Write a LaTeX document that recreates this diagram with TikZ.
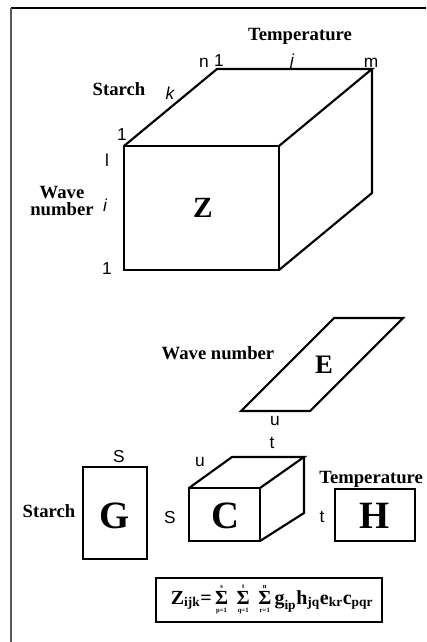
\documentclass[tikz,border=0pt]{standalone}
\usepackage{fontspec}
\setmainfont{Liberation Serif}
\setsansfont{Liberation Sans}
\newcommand{\subtx}[1]{\hbox{\fontsize{10}{10}\selectfont\bfseries #1}}
\newcommand{\limtx}[1]{\hbox{\fontsize{5}{5}\selectfont\bfseries #1}}
\newcommand{\bsum}[2]{\mathop{\hbox{\fontsize{15}{15}\selectfont\bfseries Σ}}\limits^{\limtx{#1}}_{\limtx{#2}}}
\begin{document}
\begin{tikzpicture}[x=0.75pt,y=-0.75pt,
  lbl/.style={font=\fontsize{14}{14}\selectfont\bfseries, inner sep=0, anchor=base},
  idx/.style={font=\sffamily\fontsize{13}{13}\selectfont, inner sep=0, anchor=base},
  iidx/.style={font=\sffamily\itshape\fontsize{13}{13}\selectfont, inner sep=0, anchor=base},
  bigz/.style={font=\fontsize{22}{22}\selectfont\bfseries, inner sep=0},
  bige/.style={font=\fontsize{20}{20}\selectfont\bfseries, inner sep=0},
  bigg/.style={font=\fontsize{29}{29}\selectfont\bfseries, inner sep=0},
  edge/.style={line width=1.6pt, line join=miter}]
\useasboundingbox (0,0) rectangle (426,642);
% frame
\coordinate (ftl) at (11,8);
\coordinate (ftr) at (426,8);
\coordinate (fbl) at (11,642);
\draw[line width=1.1pt, black] (ftl) -- (ftr);
\draw[line width=1.6pt, black!65] (fbl) -- (ftl);
% ---------- Z cube ----------
\coordinate (za) at (124,146);
\coordinate (zb) at (279,146);
\coordinate (zc) at (279,270);
\coordinate (zd) at (124,270);
\coordinate (ze) at (217,69);
\coordinate (zf) at (372,69);
\coordinate (zg) at (372,193);
\draw[edge] (za) -- (zb) -- (zc) -- (zd) -- cycle;
\draw[edge] (za) -- (ze) -- (zf) -- (zb);
\draw[edge] (zf) -- (zg) -- (zc);
\node[bigz] (zl) at (203,208) {Z};
\node[lbl] (ztemp) at (300,41) {Temperature};
\node[lbl] (zstarch) at (119,95) {Starch};
\node[lbl] (zwave1) at (62,198) {Wave};
\node[lbl] (zwave2) at (62,215) {number};
\node[idx] (zn) at (204,68) {n};
\node[idx] (zone1) at (219,67) {1};
\node[iidx] (zj) at (292,67) {j};
\node[idx] (zm) at (371,68) {m};
\node[iidx] (zk) at (170,99) {k};
\node[idx] (zone2) at (122,140) {1};
\node[idx] (zlw) at (107,166) {l};
\node[iidx] (zi) at (105,211) {i};
\node[idx] (zone3) at (107,274) {1};
% ---------- E ----------
\coordinate (ea) at (334,318);
\coordinate (eb) at (403,318);
\coordinate (ec) at (310,411);
\coordinate (ed) at (241,411);
\draw[edge] (ea) -- (eb) -- (ec) -- (ed) -- cycle;
\node[bige] (el) at (324,365) {E};
\node[lbl] (ewave) at (218,359) {Wave number};
\node[idx] (eu) at (275,425) {u};
% ---------- G ----------
\coordinate (ga) at (83,467);
\coordinate (gc) at (147,559);
\draw[edge] (ga) rectangle (gc);
\node[bigg] (gl) at (115,516) {G};
\node[lbl] (gstarch) at (49,517) {Starch};
\node[idx] (gs) at (119,462) {S};
% ---------- C cube ----------
\coordinate (ca) at (189,488);
\coordinate (cb) at (260,488);
\coordinate (cc) at (260,541);
\coordinate (cd) at (189,541);
\coordinate (ce) at (232,457);
\coordinate (cf) at (304,457);
\coordinate (cg) at (304,513);
\draw[edge] (ca) -- (cb) -- (cc) -- (cd) -- cycle;
\draw[edge] (ca) -- (ce) -- (cf) -- (cb);
\draw[edge] (cf) -- (cg) -- (cc);
\node[bigg] (cl) at (225,516) {C};
\node[idx] (cu) at (200,466) {u};
\node[idx] (ct) at (272,448) {t};
\node[idx] (cs) at (170,523) {S};
% ---------- H ----------
\coordinate (ha) at (335,489);
\coordinate (hc) at (415,541);
\draw[edge] (ha) rectangle (hc);
\node[bigg] (hl) at (375,516) {H};
\node[lbl, anchor=base west] (htemp) at (319,483) {Temperature};
\node[idx] (ht) at (322,522) {t};
% ---------- formula ----------
\coordinate (fa) at (156,578);
\coordinate (fc) at (382,622);
\draw[edge] (fa) rectangle (fc);
\node[font=\fontsize{15}{15}\selectfont\bfseries, inner sep=0] (form) at (272,599)
  {$\hbox{Z}_{\subtx{ijk}}\hbox{=}\bsum{s}{p=1}\;\bsum{t}{q=1}\;\bsum{n}{r=1}\hbox{g}_{\subtx{ip}}\hbox{h}_{\subtx{jq}}\hbox{e}_{\subtx{kr}}\hbox{c}_{\subtx{pqr}}$};
\end{tikzpicture}
\end{document}
